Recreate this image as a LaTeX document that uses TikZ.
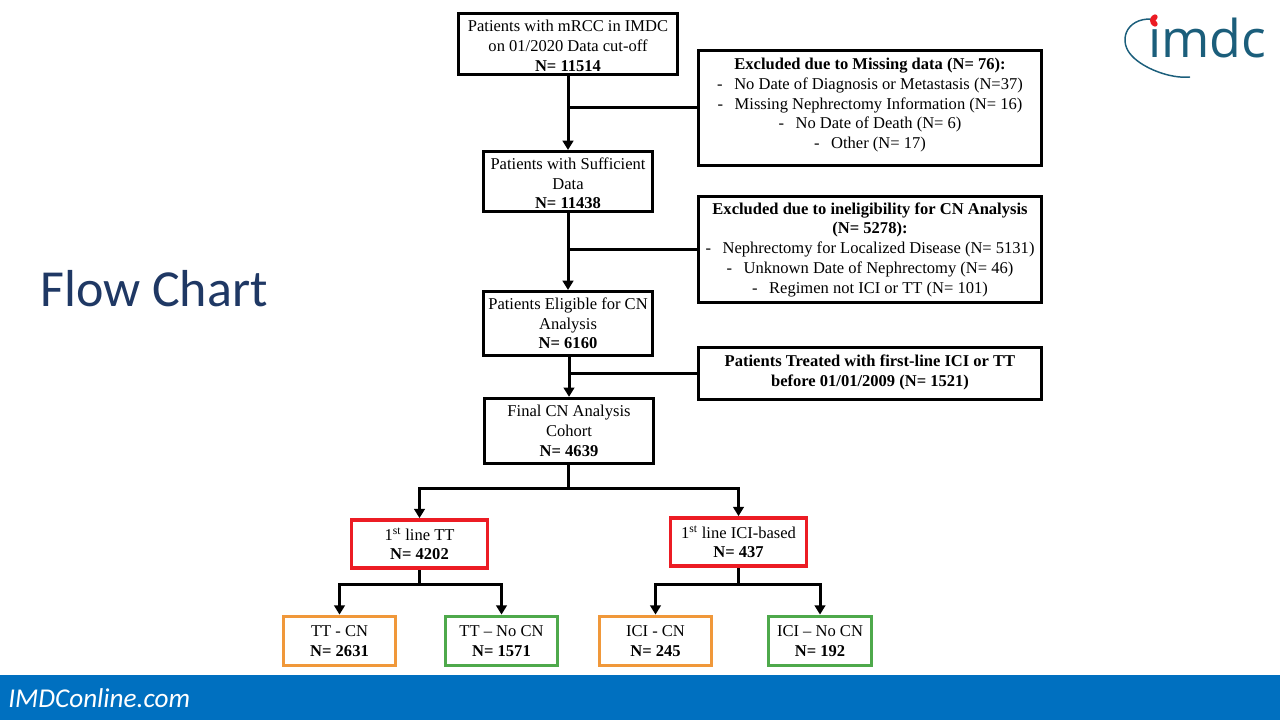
\documentclass[tikz,border=0pt]{standalone}
\usepackage{fontspec}
\setmainfont{Liberation Serif}
\newfontfamily\slidefont{Carlito}
\newfontfamily\logofont{Open Sans}
\usetikzlibrary{arrows.meta,positioning}
\definecolor{barblue}{HTML}{0070C0}
\definecolor{titleblue}{HTML}{1F3864}
\definecolor{logoteal}{HTML}{1B5E7B}
\definecolor{boxred}{HTML}{EC1C24}
\definecolor{boxorange}{HTML}{F0983A}
\definecolor{boxgreen}{HTML}{4EA94B}
\newcommand{\itemdash}{-\hspace{0.7em}}

\begin{document}
\begin{tikzpicture}[
  x=0.75pt, y=-0.75pt,
  font=\fontsize{12.4}{14.8}\selectfont,
  st/.style={draw=black, line width=2.25pt, fill=white, align=center, inner sep=0pt},
  redbox/.style={st, draw=boxred, line width=2.8pt, minimum width=102pt, minimum height=36pt},
  orangebox/.style={st, draw=boxorange, line width=2.6pt, minimum width=84pt, minimum height=37pt},
  greenbox/.style={st, draw=boxgreen, line width=2.6pt, minimum height=37pt},
  arr/.style={-{Triangle[length=7pt, width=8pt]}, line width=2.25pt, draw=black},
  lin/.style={line width=2.25pt, draw=black}
]
\useasboundingbox (0,0) rectangle (1280,720);

% ================= slide furniture =================
\fill[barblue] (0,675) rectangle (1280,720);
\node[font=\slidefont\itshape\fontsize{20.4}{22}\selectfont, text=white, anchor=west, inner sep=0pt] (site) at (8,698) {IMDConline.com};
\node[font=\slidefont\fontsize{39}{44}\selectfont, text=titleblue, anchor=west, inner sep=0pt] (heading) at (40,289) {Flow Chart};

% ================= logo =================
\node[font=\logofont\fontsize{39}{42}\selectfont, text=logoteal, anchor=base west, inner sep=0pt] (logo) at (1148,58) {ımdc};
\draw[logoteal, line width=1.1pt] (1152,19) .. controls (1125,18) and (1118,42) .. (1132,56) .. controls (1143,68) and (1170,79) .. (1190,77);
\draw[boxred, line width=4pt, line cap=round] (1155,17) .. controls (1152,19) and (1152,22) .. (1155,24);

% ================= main column =================
% the struts move these texts a little below the middle of the box
\node[st, minimum width=164pt, minimum height=46pt] (top) at (568,44)
  {\rule{0pt}{11.5pt}Patients with mRCC in IMDC\\on 01/2020 Data cut-off\\\textbf{N= 11514}};
\node[st, minimum width=126.5pt, minimum height=45pt] (suff) at (568,181.5)
  {\rule{0pt}{11.5pt}Patients with Sufficient\\Data\\\textbf{N= 11438}};
\node[st, minimum width=126.5pt, minimum height=48pt] (elig) at (568,323.5)
  {Patients Eligible for CN\\Analysis\\\textbf{N= 6160}};
\node[st, minimum width=126.5pt, minimum height=49pt] (final) at (569,431)
  {Final CN Analysis\\Cohort\\\textbf{N= 4639}};

% ================= exclusions =================
% here the struts keep the text a little above the middle
\node[st, minimum width=257.5pt, minimum height=86.5pt] (miss) at (870,108)
  {\textbf{Excluded due to Missing data (N= 76):}\\
   \itemdash No Date of Diagnosis or Metastasis (N=37)\\
   \itemdash Missing Nephrectomy Information (N= 16)\\
   \itemdash No Date of Death (N= 6)\\
   \itemdash Other (N= 17)\rule[-7pt]{0pt}{0pt}};
\node[st, minimum width=257.5pt, minimum height=79.5pt] (inel) at (870,249.5)
  {\textbf{Excluded due to ineligibility for CN Analysis}\\
   \textbf{(N= 5278):}\\
   \itemdash Nephrectomy for Localized Disease (N= 5131)\\
   \itemdash Unknown Date of Nephrectomy (N= 46)\\
   \itemdash Regimen not ICI or TT (N= 101)};
\node[st, minimum width=257.5pt, minimum height=39.5pt] (early) at (870,373.5)
  {\textbf{Patients Treated with first-line ICI or TT}\\
   \textbf{before 01/01/2009 (N= 1521)}\rule[-4pt]{0pt}{0pt}};

% ================= treatment arms =================
\node[redbox] (tt) at (419.5,544) {1\textsuperscript{st} line TT\\\textbf{N= 4202}};
\node[redbox] (ici) at (738.5,542) {1\textsuperscript{st} line ICI-based\\\textbf{N= 437}};
\node[orangebox] (ttcn) at (339.5,641) {TT - CN\\\textbf{N= 2631}};
\node[greenbox, minimum width=84pt] (ttno) at (501.5,641) {TT -- No CN\\\textbf{N= 1571}};
\node[orangebox] (icicn) at (655.5,641) {ICI - CN\\\textbf{N= 245}};
\node[greenbox, minimum width=77pt] (icino) at (820,641) {ICI -- No CN\\\textbf{N= 192}};

% ================= connectors =================
\draw[arr] (top.south) -- (suff.north);
\draw[arr] (suff.south) -- (elig.north);
\draw[arr] (elig.south -| final.north) -- (final.north);
\draw[lin] (miss.west) -- (miss.west -| top.south);
\draw[lin] (inel.west) -- (inel.west -| suff.south);
\draw[lin] (early.west) -- (early.west -| final.north);

\coordinate (split) at (568,488);
\coordinate (splittt) at (419.5,584);
\coordinate (splitici) at (738.5,584);
\draw[lin] (final.south -| split) -- (split);
\draw[arr] (split) -| (tt.north);
\draw[arr] (split) -| (ici.north);
\draw[lin] (tt.south) -- (splittt);
\draw[arr] (splittt) -| (ttcn.north);
\draw[arr] (splittt) -| (ttno.north);
\draw[lin] (ici.south) -- (splitici);
\draw[arr] (splitici) -| (icicn.north);
\draw[arr] (splitici) -| (icino.north);
\end{tikzpicture}
\end{document}
